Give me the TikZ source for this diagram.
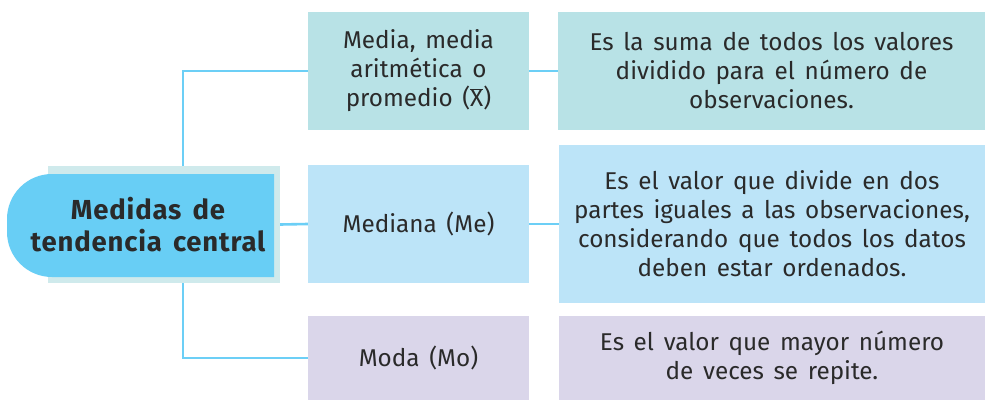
\documentclass[tikz,border=0pt]{standalone}
\usepackage{fontspec}
\setmainfont{Fira Sans}[WordSpace=1.5]
\newfontfamily\mainboldfont{Fira Sans}[WordSpace=1.5,LetterSpace=3]
\begin{document}
\begin{tikzpicture}[x=1pt,y=1pt]
\definecolor{tealbox}{HTML}{B8E2E6}
\definecolor{bluebox}{HTML}{BCE4F8}
\definecolor{lavbox}{HTML}{DAD6EA}
\definecolor{mainblue}{HTML}{68CEF5}
\definecolor{mainbg}{HTML}{CFEAEC}
\definecolor{linec}{HTML}{6CCFF6}
\definecolor{txt}{HTML}{2A2A2A}
\tikzset{
  box/.style={rectangle, inner sep=0pt, align=center, text=txt,
    font=\fontsize{24.3}{29}\selectfont},
  conn/.style={draw=linec, line width=2.6pt}
}
\useasboundingbox (0,0) rectangle (985,400);
\fill[white] (0,0) rectangle (985,400);
% main background
\node[rectangle, fill=mainbg, minimum width=232pt, minimum height=117pt, inner sep=0pt] (mainbg) at (164,175.5) {};
% spine
\coordinate (spine) at (183,0);
% boxes
\node[box, fill=tealbox, minimum width=221pt, minimum height=118pt] (b1) at (418.5,329) {Media, media\\aritmética o\\promedio ($\overline{\mbox{X}}$)};
\node[box, fill=bluebox, minimum width=221pt, minimum height=118pt] (b2) at (418.5,176) {Mediana (Me)};
\node[box, fill=lavbox, minimum width=221pt, minimum height=84pt] (b3) at (418.5,42) {Moda (Mo)};
\node[box, fill=tealbox, minimum width=427pt, minimum height=118pt] (r1) at (771.5,329) {Es la suma de todos los valores\\dividido para el número de\\observaciones.};
\node[box, fill=bluebox, minimum width=426pt, minimum height=158pt] (r2) at (772,176) {Es el valor que divide en dos\\partes iguales a las observaciones,\\considerando que todos los datos\\deben estar ordenados.};
\node[box, fill=lavbox, minimum width=426pt, minimum height=84pt] (r3) at (772,42) {Es el valor que mayor número\\de veces se repite.};
% connectors
\draw[conn] (mainbg.north -| spine) |- (b1.west);
\draw[conn] (mainbg.south -| spine) |- (b3.west);
\draw[conn] (mainbg.east) -- (b2.west);
\draw[conn] (b1.east) -- (r1.west);
\draw[conn] (b2.east) -- (r2.west);
% main node shape
\fill[mainblue] (274,226) -- (52,226) arc[start angle=90,end angle=180,radius=45] -- (7,168) arc[start angle=180,end angle=270,radius=45] -- (274,123) -- cycle;
\node[align=center, text=txt, font=\mainboldfont\fontsize{27.5}{32}\selectfont\bfseries] (main) at (148,175) {Medidas de\\tendencia central};
\end{tikzpicture}
\end{document}
